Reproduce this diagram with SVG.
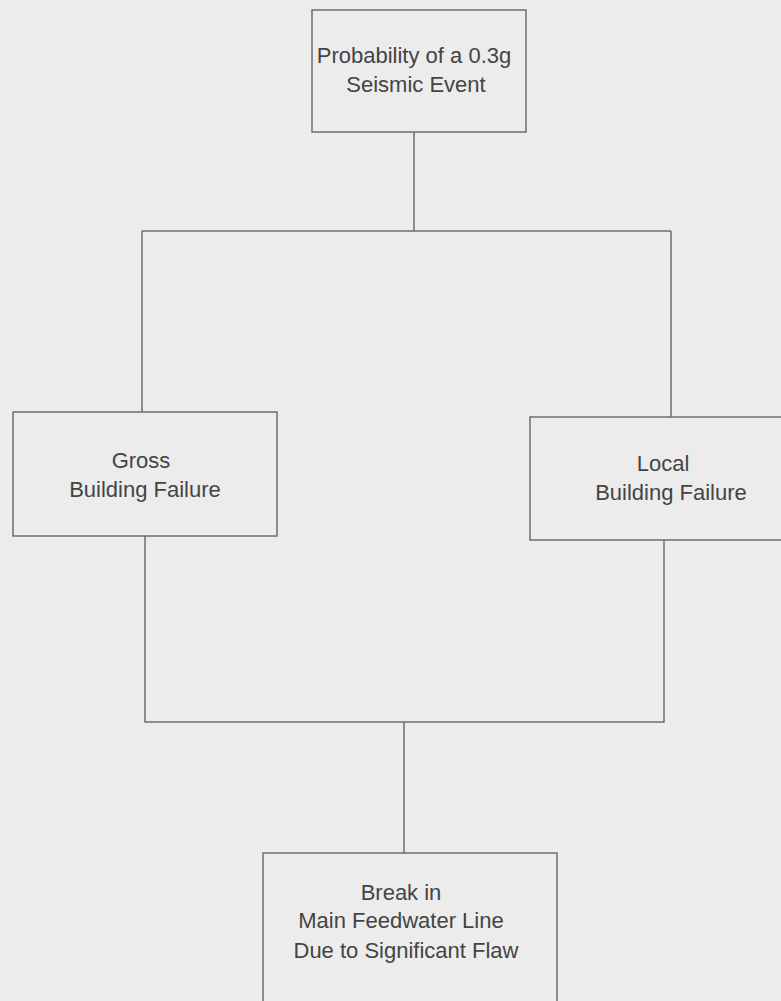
<svg xmlns="http://www.w3.org/2000/svg" width="781" height="1001" viewBox="0 0 781 1001">
<style>
.box{fill:none;stroke:#6e6e6e;stroke-width:1.5}
.ln{fill:none;stroke:#6e6e6e;stroke-width:1.5}
text{font-family:"Liberation Sans",Arial,sans-serif;font-size:22px;fill:#444;text-anchor:middle}
</style>
<rect width="781" height="1001" fill="#ececec"/>
<g id="connectors">
<path class="ln" d="M414 132V231M142 231H671M142 231V412M671 231V417"/>
<path class="ln" d="M145 536V722H664V540M404 722V853"/>
</g>
<g id="n1"><rect class="box" x="312" y="10" width="214" height="122"/>
<text x="414" y="63">Probability of a 0.3g</text><text x="416" y="92">Seismic Event</text></g>
<g id="n2"><rect class="box" x="13" y="412" width="264" height="124"/>
<text x="141" y="468">Gross</text><text x="145" y="497">Building Failure</text></g>
<g id="n3"><rect class="box" x="530" y="417" width="260" height="123"/>
<text x="663" y="471">Local</text><text x="671" y="500">Building Failure</text></g>
<g id="n4"><rect class="box" x="263" y="853" width="294" height="160"/>
<text x="401" y="900">Break in</text><text x="401" y="928">Main Feedwater Line</text><text x="406" y="958">Due to Significant Flaw</text></g>
</svg>
